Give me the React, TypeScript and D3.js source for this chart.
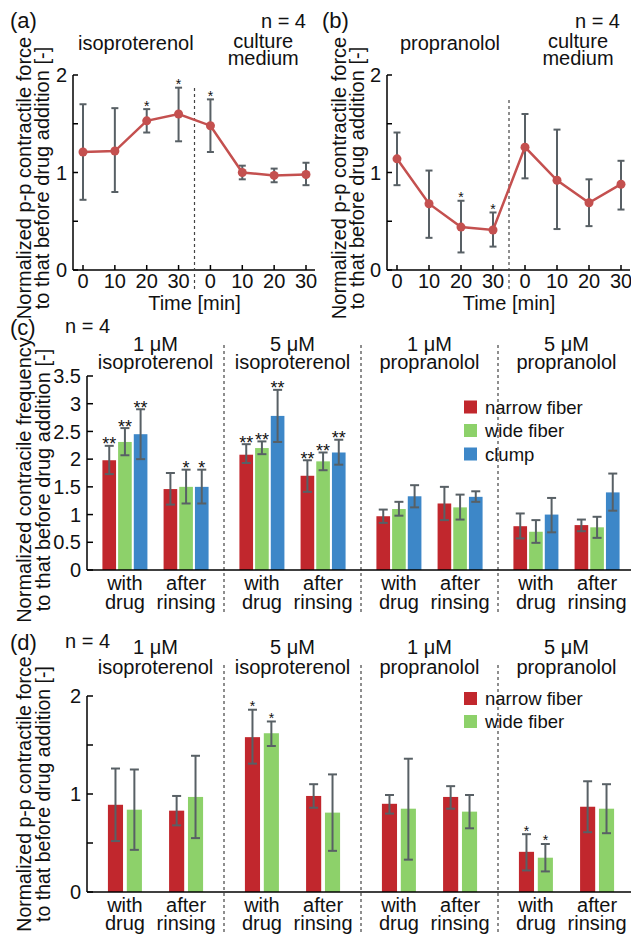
import React from "react";
import * as d3 from "d3";

const FONT = "'Liberation Sans', Arial, Helvetica, sans-serif";

// ---------- Panel (a) / (b) data ----------
const timeLabels = ["0", "10", "20", "30", "0", "10", "20", "30"];
const isoMean = [1.21, 1.22, 1.53, 1.6, 1.48, 1.0, 0.97, 0.98];
const isoLow = [0.72, 0.8, 1.41, 1.32, 1.21, 0.93, 0.9, 0.87];
const isoHigh = [1.7, 1.66, 1.65, 1.87, 1.75, 1.07, 1.04, 1.1];
const isoSig = ["", "", "*", "*", "*", "", "", ""];

const proMean = [1.14, 0.68, 0.44, 0.41, 1.26, 0.92, 0.69, 0.88];
const proLow = [0.87, 0.33, 0.18, 0.24, 0.94, 0.42, 0.45, 0.62];
const proHigh = [1.41, 1.02, 0.71, 0.59, 1.6, 1.44, 0.93, 1.12];
const proSig = ["", "", "*", "*", "", "", "", ""];

const forceTicks = [0, 0.5, 1, 1.5, 2];
const forceTickLabels = ["0", "", "1", "", "2"];

// ---------- Panels (c) / (d) categories ----------
const concentrations = ["1 μM", "5 μM", "1 μM", "5 μM"];
const drugs = ["isoproterenol", "isoproterenol", "propranolol", "propranolol"];
const conditionLine1 = ["with", "after"];
const conditionLine2 = ["drug", "rinsing"];

// order: g1-with, g1-after, g2-with, g2-after, g3-with, g3-after, g4-with, g4-after
const narrowFreq = [1.98, 1.46, 2.08, 1.7, 0.97, 1.2, 0.79, 0.81];
const narrowFreqLow = [1.73, 1.18, 1.93, 1.41, 0.85, 0.9, 0.57, 0.7];
const narrowFreqHigh = [2.24, 1.75, 2.27, 1.98, 1.09, 1.5, 1.02, 0.91];
const narrowFreqSig = ["**", "", "**", "**", "", "", "", ""];

const wideFreq = [2.31, 1.5, 2.2, 1.96, 1.1, 1.13, 0.69, 0.77];
const wideFreqLow = [2.07, 1.2, 2.09, 1.8, 0.98, 0.91, 0.49, 0.58];
const wideFreqHigh = [2.56, 1.81, 2.32, 2.12, 1.23, 1.36, 0.9, 0.96];
const wideFreqSig = ["**", "*", "**", "**", "", "", "", ""];

const clumpFreq = [2.45, 1.5, 2.78, 2.12, 1.33, 1.32, 1.0, 1.4];
const clumpFreqLow = [2.0, 1.2, 2.31, 1.9, 1.13, 1.23, 0.68, 1.07];
const clumpFreqHigh = [2.9, 1.81, 3.25, 2.35, 1.53, 1.42, 1.3, 1.74];
const clumpFreqSig = ["**", "*", "**", "**", "", "", "", ""];

const freqTicks = [0, 0.5, 1, 1.5, 2, 2.5, 3, 3.5];
const freqTickLabels = ["0", "0.5", "1", "1.5", "2", "2.5", "3", "3.5"];

const narrowForce = [0.89, 0.83, 1.58, 0.98, 0.9, 0.97, 0.41, 0.87];
const narrowForceLow = [0.52, 0.68, 1.31, 0.86, 0.8, 0.85, 0.22, 0.61];
const narrowForceHigh = [1.26, 0.98, 1.86, 1.1, 0.99, 1.08, 0.59, 1.13];
const narrowForceSig = ["", "", "*", "", "", "", "*", ""];

const wideForce = [0.84, 0.97, 1.62, 0.81, 0.85, 0.82, 0.35, 0.85];
const wideForceLow = [0.43, 0.55, 1.49, 0.42, 0.33, 0.65, 0.21, 0.6];
const wideForceHigh = [1.25, 1.39, 1.74, 1.2, 1.36, 0.99, 0.49, 1.1];
const wideForceSig = ["", "", "*", "", "", "", "*", ""];

const seriesNames = ["narrow fiber", "wide fiber", "clump"];
const seriesColors = ["#c1272d", "#8dd16a", "#3d87c8"];

const LINE_COLOR = "#c4504f";
const ERR_COLOR = "#586065";
const FS = 20;

type Series = {
  name: string;
  color: string;
  mean: number[];
  low: number[];
  high: number[];
  sig: string[];
};

function YTitle({ x1, x2, cy, line1, line2, fs = FS }: { x1: number; x2: number; cy: number; line1: string; line2: string; fs?: number }) {
  return (
    <g fontSize={fs}>
      <text transform={`translate(${x1},${cy}) rotate(-90)`} textAnchor="middle">{line1}</text>
      <text transform={`translate(${x2},${cy}) rotate(-90)`} textAnchor="middle">{line2}</text>
    </g>
  );
}

function LinePanel(props: {
  letter: string;
  letterX: number;
  nX: number;
  axisX: number;
  xStart: number;
  xEnd: number;
  axisEnd: number;
  mean: number[];
  low: number[];
  high: number[];
  sig: string[];
  drug: string;
  dashTop: number;
  titleX1: number;
  titleX2: number;
}) {
  const { axisX, xStart, xEnd, axisEnd, mean, low, high, sig } = props;
  const y = d3.scaleLinear().domain([0, 2]).range([270, 75]);
  const x = d3.scalePoint<number>().domain(d3.range(mean.length)).range([xStart, xEnd]);
  const xs = (i: number) => x(i) as number;
  const divX = (xs(3) + xs(4)) / 2;
  const line = d3
    .line<number>()
    .x((_, i) => xs(i))
    .y((d) => y(d));
  const leftMid = (xs(0) + xs(3)) / 2 + 5;
  const rightMid = (xs(4) + xs(7)) / 2 + 5;
  return (
    <g>
      <text x={props.letterX} y={28} fontSize={22}>{props.letter}</text>
      <text x={props.nX} y={28} fontSize={FS} textAnchor="end">n = 4</text>
      <text x={leftMid} y={50} fontSize={FS} textAnchor="middle">{props.drug}</text>
      <text x={rightMid} y={48} fontSize={FS} textAnchor="middle">culture</text>
      <text x={rightMid} y={65} fontSize={FS} textAnchor="middle">medium</text>
      <YTitle
        x1={props.titleX1}
        x2={props.titleX2}
        cy={178}
        line1="Normalized p-p contractile force"
        line2="to that before drug addition [-]"
      />
      {/* axes */}
      <line x1={axisX} x2={axisX} y1={y(2)} y2={y(0)} stroke="#000" strokeWidth={1.5} />
      <line x1={axisX} x2={axisEnd} y1={y(0)} y2={y(0)} stroke="#000" strokeWidth={1.5} />
      {forceTicks.map((t, i) => (
        <g key={"yt" + i}>
          <line x1={axisX} x2={axisX + 5} y1={y(t)} y2={y(t)} stroke="#000" strokeWidth={1.5} />
          {forceTickLabels[i] && (
            <text x={axisX - 6} y={y(t)} dy="0.36em" fontSize={FS} textAnchor="end">
              {forceTickLabels[i]}
            </text>
          )}
        </g>
      ))}
      {timeLabels.map((t, i) => (
        <g key={"xt" + i}>
          <line x1={xs(i)} x2={xs(i)} y1={y(0)} y2={y(0) - 5} stroke="#000" strokeWidth={1.5} />
          <text x={xs(i)} y={288} fontSize={FS} textAnchor="middle">{t}</text>
        </g>
      ))}
      <text x={divX} y={310} fontSize={FS} textAnchor="middle">Time [min]</text>
      <line x1={divX} x2={divX} y1={props.dashTop} y2={291} stroke="#444" strokeWidth={1.2} strokeDasharray="3,3" />
      {/* error bars */}
      {mean.map((_, i) => (
        <g key={"e" + i} stroke={ERR_COLOR} strokeWidth={2}>
          <line x1={xs(i)} x2={xs(i)} y1={y(low[i])} y2={y(high[i])} />
          <line x1={xs(i) - 3.5} x2={xs(i) + 3.5} y1={y(low[i])} y2={y(low[i])} />
          <line x1={xs(i) - 3.5} x2={xs(i) + 3.5} y1={y(high[i])} y2={y(high[i])} />
        </g>
      ))}
      <path d={line(mean) as string} fill="none" stroke={LINE_COLOR} strokeWidth={2.5} />
      {mean.map((m, i) => (
        <circle key={"c" + i} cx={xs(i)} cy={y(m)} r={4.5} fill={LINE_COLOR} />
      ))}
      {sig.map((s, i) =>
        s ? (
          <text key={"s" + i} x={xs(i)} y={y(high[i]) + 1.5} fontSize={14} textAnchor="middle">
            {s}
          </text>
        ) : null
      )}
    </g>
  );
}

function BarPanel(props: {
  letter: string;
  top: number; // y of top of domain
  bottom: number; // y of zero
  yMax: number;
  ticks: number[];
  tickLabels: string[];
  series: Series[];
  seriesHalf: number;
  seriesPad: number;
  starSize: number;
  starDy: number;
  letterY: number;
  headY1: number;
  headY2: number;
  condY1: number;
  condY2: number;
  dashTop: number;
  dashBottom: number;
  legendX: number;
  legendY: number;
  legendStep: number;
  titleCy: number;
  titleFs?: number;
  line1: string;
  line2: string;
}) {
  const axisX = 87;
  const axisEnd = 631;
  const y = d3.scaleLinear().domain([0, props.yMax]).range([props.bottom, props.top]);
  const gx = d3.scaleBand<number>().domain(d3.range(4)).range([axisX, 635]).paddingInner(0).paddingOuter(0);
  const sx = d3.scalePoint<number>().domain([0, 1]).range([0, gx.bandwidth()]).padding(0.62);
  const bx = d3
    .scaleBand<number>()
    .domain(d3.range(props.series.length))
    .range([-props.seriesHalf, props.seriesHalf])
    .paddingInner(props.seriesPad);
  const center = (k: number) => (gx(Math.floor(k / 2)) as number) + (sx(k % 2) as number);
  const cap = 4.5;
  return (
    <g>
      <text x={10} y={props.letterY} fontSize={22}>{props.letter}</text>
      <text x={65} y={props.letterY - 2} fontSize={FS}>n = 4</text>
      <YTitle x1={31} x2={50} cy={props.titleCy} line1={props.line1} line2={props.line2} fs={props.titleFs ?? FS} />
      {concentrations.map((c, g) => {
        const cx = (gx(g) as number) + gx.bandwidth() / 2;
        return (
          <g key={"h" + g}>
            <text x={cx} y={props.headY1} fontSize={FS} textAnchor="middle">{c}</text>
            <text x={cx} y={props.headY2} fontSize={FS} textAnchor="middle">{drugs[g]}</text>
          </g>
        );
      })}
      {[1, 2, 3].map((g) => (
        <line
          key={"d" + g}
          x1={gx(g) as number}
          x2={gx(g) as number}
          y1={props.dashTop}
          y2={props.dashBottom}
          stroke="#444"
          strokeWidth={1.2}
          strokeDasharray="3,3"
        />
      ))}
      {/* bars */}
      {props.series.map((s, si) => (
        <g key={"s" + si}>
          {s.mean.map((v, k) => {
            const x0 = center(k) + (bx(si) as number);
            return (
              <rect key={k} x={x0} y={y(v)} width={bx.bandwidth()} height={y(0) - y(v)} fill={s.color} />
            );
          })}
        </g>
      ))}
      {props.series.map((s, si) => (
        <g key={"e" + si}>
          {s.mean.map((_, k) => {
            const xc = center(k) + (bx(si) as number) + bx.bandwidth() / 2;
            return (
              <g key={k} stroke={ERR_COLOR} strokeWidth={2}>
                <line x1={xc} x2={xc} y1={y(s.low[k])} y2={y(s.high[k])} />
                <line x1={xc - cap} x2={xc + cap} y1={y(s.low[k])} y2={y(s.low[k])} />
                <line x1={xc - cap} x2={xc + cap} y1={y(s.high[k])} y2={y(s.high[k])} />
              </g>
            );
          })}
          {s.sig.map((t, k) => {
            if (!t) return null;
            const xc = center(k) + (bx(si) as number) + bx.bandwidth() / 2;
            return (
              <text key={"t" + k} x={xc} y={y(s.high[k]) + props.starDy} fontSize={props.starSize} textAnchor="middle">
                {t}
              </text>
            );
          })}
        </g>
      ))}
      {/* axes */}
      <line x1={axisX} x2={axisX} y1={y(props.yMax)} y2={y(0)} stroke="#000" strokeWidth={1.5} />
      <line x1={axisX} x2={axisEnd} y1={y(0)} y2={y(0)} stroke="#000" strokeWidth={1.5} />
      {props.ticks.map((t, i) => (
        <g key={"yt" + i}>
          <line x1={axisX} x2={axisX + 6} y1={y(t)} y2={y(t)} stroke="#000" strokeWidth={1.5} />
          {props.tickLabels[i] && (
            <text x={axisX - 6} y={y(t)} dy="0.36em" fontSize={FS} textAnchor="end">
              {props.tickLabels[i]}
            </text>
          )}
        </g>
      ))}
      {d3.range(8).map((k) => (
        <g key={"c" + k}>
          <text x={center(k)} y={props.condY1} fontSize={FS} textAnchor="middle">{conditionLine1[k % 2]}</text>
          <text x={center(k)} y={props.condY2} fontSize={FS} textAnchor="middle">{conditionLine2[k % 2]}</text>
        </g>
      ))}
      {/* legend */}
      {props.series.map((s, si) => {
        const cy = props.legendY + si * props.legendStep;
        return (
          <g key={"l" + si}>
            <rect x={props.legendX} y={cy - 6.5} width={13} height={13} fill={s.color} />
            <text x={props.legendX + 21} y={cy} dy="0.36em" fontSize={18.5}>{s.name}</text>
          </g>
        );
      })}
    </g>
  );
}

export default function App() {
  const freqSeries: Series[] = [
    { name: seriesNames[0], color: seriesColors[0], mean: narrowFreq, low: narrowFreqLow, high: narrowFreqHigh, sig: narrowFreqSig },
    { name: seriesNames[1], color: seriesColors[1], mean: wideFreq, low: wideFreqLow, high: wideFreqHigh, sig: wideFreqSig },
    { name: seriesNames[2], color: seriesColors[2], mean: clumpFreq, low: clumpFreqLow, high: clumpFreqHigh, sig: clumpFreqSig },
  ];
  const forceSeries: Series[] = [
    { name: seriesNames[0], color: seriesColors[0], mean: narrowForce, low: narrowForceLow, high: narrowForceHigh, sig: narrowForceSig },
    { name: seriesNames[1], color: seriesColors[1], mean: wideForce, low: wideForceLow, high: wideForceHigh, sig: wideForceSig },
  ];
  return (
    <svg
      width={631}
      height={935}
      viewBox="0 0 631 935"
      style={{ position: "absolute", left: 0, top: 0, background: "#fff" }}
      fontFamily={FONT}
      fill="#111"
    >
      <rect x={0} y={0} width={631} height={935} fill="#fff" />
      <LinePanel
        letter="(a)"
        letterX={10}
        nX={306}
        axisX={73}
        xStart={83}
        xEnd={306}
        axisEnd={315}
        mean={isoMean}
        low={isoLow}
        high={isoHigh}
        sig={isoSig}
        drug="isoproterenol"
        dashTop={88}
        titleX1={31}
        titleX2={49}
      />
      <LinePanel
        letter="(b)"
        letterX={322}
        nX={620}
        axisX={387}
        xStart={397}
        xEnd={621}
        axisEnd={630}
        mean={proMean}
        low={proLow}
        high={proHigh}
        sig={proSig}
        drug="propranolol"
        dashTop={100}
        titleX1={346}
        titleX2={364}
      />
      <BarPanel
        letter="(c)"
        top={376}
        bottom={570}
        yMax={3.5}
        ticks={freqTicks}
        tickLabels={freqTickLabels}
        series={freqSeries}
        seriesHalf={22.5}
        seriesPad={0.13}
        starSize={18}
        starDy={4.5}
        letterY={335}
        headY1={351}
        headY2={369}
        condY1={590}
        condY2={609}
        dashTop={345}
        dashBottom={614}
        legendX={464}
        legendY={407}
        legendStep={23.5}
        titleCy={480}
        line1="Normalized contracile frequency"
        line2="to that before drug addition [-]"
      />
      <BarPanel
        letter="(d)"
        top={696}
        bottom={892}
        yMax={2}
        ticks={forceTicks}
        tickLabels={forceTickLabels}
        series={forceSeries}
        seriesHalf={17}
        seriesPad={0.2}
        starSize={14}
        starDy={1.5}
        letterY={650}
        headY1={654}
        headY2={674}
        condY1={912}
        condY2={930}
        dashTop={665}
        dashBottom={935}
        legendX={464}
        legendY={698.5}
        legendStep={23}
        titleCy={794}
        titleFs={19.5}
        line1="Normalized p-p contractile force"
        line2="to that before drug addition [-]"
      />
    </svg>
  );
}
